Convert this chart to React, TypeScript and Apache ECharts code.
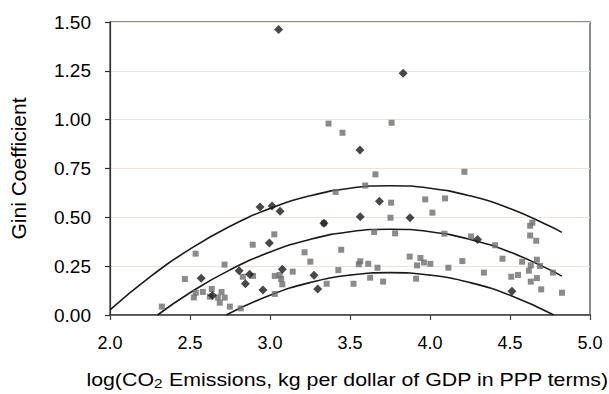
import React, { useEffect, useRef } from "react";
import * as echarts from "echarts";

// Grey squares: [log CO2 intensity, Gini]
const squarePoints: [number, number][] = [
  [2.324, 0.043], [2.468, 0.184], [2.535, 0.314], [2.536, 0.114], [2.524, 0.09],
  [2.58, 0.118], [2.636, 0.133], [2.624, 0.094], [2.697, 0.118], [2.674, 0.09],
  [2.717, 0.089], [2.686, 0.063], [2.716, 0.258], [2.749, 0.043], [2.817, 0.034],
  [2.83, 0.196], [2.894, 0.2], [2.892, 0.36], [3.027, 0.413], [3.03, 0.2],
  [3.06, 0.205], [3.07, 0.184], [3.077, 0.157], [3.03, 0.108], [3.142, 0.222],
  [3.216, 0.321], [3.252, 0.273], [3.337, 0.47], [3.354, 0.16], [3.41, 0.63],
  [3.445, 0.334], [3.427, 0.23], [3.366, 0.98], [3.453, 0.933], [3.522, 0.16],
  [3.555, 0.26], [3.564, 0.275], [3.595, 0.663], [3.614, 0.262], [3.626, 0.191],
  [3.651, 0.425], [3.659, 0.72], [3.672, 0.242], [3.707, 0.171], [3.757, 0.575],
  [3.753, 0.498], [3.76, 0.984], [3.782, 0.418], [3.873, 0.299], [3.913, 0.186],
  [3.919, 0.254], [3.94, 0.292], [3.962, 0.269], [3.97, 0.592], [4.002, 0.262],
  [4.015, 0.524], [4.09, 0.416], [4.094, 0.597], [4.115, 0.242], [4.202, 0.276],
  [4.215, 0.733], [4.256, 0.402], [4.337, 0.217], [4.407, 0.357], [4.453, 0.288],
  [4.508, 0.196], [4.55, 0.205], [4.576, 0.273], [4.618, 0.227], [4.626, 0.407],
  [4.626, 0.457], [4.64, 0.473], [4.63, 0.254], [4.63, 0.171], [4.664, 0.38],
  [4.668, 0.283], [4.668, 0.189], [4.688, 0.251], [4.695, 0.131], [4.768, 0.217],
  [4.825, 0.114],
];

// Black diamonds
const diamondPoints: [number, number][] = [
  [3.054, 1.461], [3.832, 1.237], [3.562, 0.845], [3.684, 0.582], [3.564, 0.503],
  [3.875, 0.498], [2.938, 0.553], [3.013, 0.558], [3.063, 0.531], [3.337, 0.47],
  [2.996, 0.369], [4.297, 0.387], [2.57, 0.188], [2.807, 0.227], [2.873, 0.208],
  [2.846, 0.16], [3.077, 0.234], [3.275, 0.203], [3.298, 0.133], [2.956, 0.128],
  [4.512, 0.121], [2.64, 0.1],
];

// Fitted curves
const upperCurve: [number, number][] = [
  [2.0, 0.026], [2.25, 0.195], [2.5, 0.337], [2.75, 0.454], [3.0, 0.545],
  [3.25, 0.61], [3.5, 0.649], [3.75, 0.662], [4.0, 0.649], [4.25, 0.61],
  [4.5, 0.545], [4.75, 0.454], [4.824, 0.423],
];
const middleCurve: [number, number][] = [
  [2.297, 0.0], [2.5, 0.114], [2.75, 0.231], [3.0, 0.322], [3.25, 0.387],
  [3.5, 0.426], [3.75, 0.439], [4.0, 0.426], [4.25, 0.387], [4.5, 0.322],
  [4.75, 0.231], [4.824, 0.199],
];
const lowerCurve: [number, number][] = [
  [2.726, 0.0], [3.0, 0.101], [3.25, 0.166], [3.5, 0.204], [3.75, 0.217],
  [4.0, 0.204], [4.25, 0.166], [4.5, 0.101], [4.774, 0.0],
];

const xTickValues: number[] = [2.0, 2.5, 3.0, 3.5, 4.0, 4.5, 5.0];

const xTitleMain = "log(CO";
const xTitleSub = "2";
const xTitleRest = " Emissions, kg per dollar of GDP in PPP terms)";
const yTitle = "Gini Coefficient";

const FONT = "'Liberation Sans', Arial, Helvetica, sans-serif";

export default function App() {
  const ref = useRef<HTMLDivElement>(null);
  useEffect(() => {
    const chart = echarts.init(ref.current!, null, { renderer: "svg" });
    const curveStyle = { color: "#1a1a1a", width: 1.6 };
    const curve = (data: [number, number][]) => ({
      type: "line",
      data,
      smooth: true,
      showSymbol: false,
      symbol: "none",
      lineStyle: curveStyle,
      z: 2,
      silent: true,
    });
    chart.setOption({
      animation: false,
      backgroundColor: "#ffffff",
      textStyle: { fontFamily: FONT },
      grid: {
        left: 109,
        top: 22,
        right: 19,
        bottom: 79,
        show: true,
        borderColor: "#666666",
        borderWidth: 1.5,
        containLabel: false,
      },
      xAxis: {
        type: "value",
        min: 2,
        max: 5,
        interval: 0.5,
        position: "bottom",
        axisLine: { show: true, onZero: false, lineStyle: { color: "#404040", width: 1.5 } },
        axisTick: { show: true, length: 5, lineStyle: { color: "#404040", width: 1.2 } },
        axisLabel: { show: false },
        splitLine: { show: false },
      },
      yAxis: {
        type: "value",
        min: 0,
        max: 1.5,
        interval: 0.25,
        name: yTitle,
        nameLocation: "middle",
        nameRotate: 90,
        nameGap: 81,
        nameTextStyle: { fontSize: 21, color: "#000", fontFamily: FONT },
        axisLine: { show: true, onZero: false, lineStyle: { color: "#303030", width: 1.2 } },
        axisTick: { show: true, length: 5, lineStyle: { color: "#303030", width: 1.2 } },
        axisLabel: {
          margin: 19,
          fontSize: 19,
          color: "#000",
          fontFamily: FONT,
          formatter: (v: number) => v.toFixed(2),
        },
        splitLine: { show: true, lineStyle: { color: "#ebe3dc", width: 1 } },
      },
      series: [
        curve(upperCurve),
        curve(middleCurve),
        curve(lowerCurve),
        {
          type: "scatter",
          data: squarePoints,
          symbol: "rect",
          symbolSize: 6,
          itemStyle: { color: "#6e6e6e" },
          z: 3,
        },
        {
          type: "scatter",
          data: diamondPoints,
          symbol: "diamond",
          symbolSize: 9,
          itemStyle: { color: "#1a1a1a" },
          z: 4,
        },
      ],
    });

    // x tick labels placed through the axis scale
    const y0 = chart.convertToPixel({ yAxisIndex: 0 }, 0) as number;
    const tickLabels = xTickValues.map((v) => ({
      type: "text",
      x: chart.convertToPixel({ xAxisIndex: 0 }, v) as number,
      y: y0 + 28,
      silent: true,
      style: {
        text: v.toFixed(1),
        align: "center",
        verticalAlign: "middle",
        fontSize: 18,
        fontFamily: FONT,
        fill: "#000",
      },
    }));
    const xMid = chart.convertToPixel({ xAxisIndex: 0 }, 3.5) as number;
    chart.setOption({
      graphic: [
        ...tickLabels,
        {
          type: "text",
          x: xMid - 2.5,
          y: y0 + 65,
          scaleX: 1.186,
          silent: true,
          style: {
            text: `{a|${xTitleMain}}{b|${xTitleSub}}{a|${xTitleRest}}`,
            align: "center",
            verticalAlign: "middle",
            fill: "#000",
            rich: {
              a: { fontSize: 18, fontFamily: FONT, fill: "#000", lineHeight: 20, verticalAlign: "middle" },
              b: { fontSize: 13, fontFamily: FONT, fill: "#000", lineHeight: 13, verticalAlign: "bottom" },
            },
          },
        },
      ],
    });
    return () => chart.dispose();
  }, []);
  return (
    <div
      ref={ref}
      style={{ position: "fixed", left: 0, top: 0, width: 609, height: 394, background: "#fff" }}
    />
  );
}
